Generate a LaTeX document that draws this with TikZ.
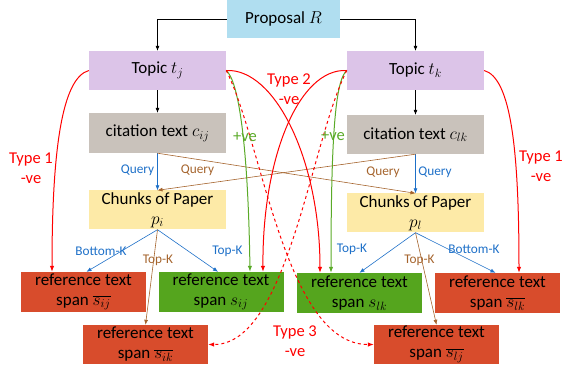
\documentclass[tikz,border=0pt]{standalone}
\usepackage{fontspec}
\setmainfont{Carlito}
\usetikzlibrary{arrows.meta}

\definecolor{propblue}{RGB}{176,222,240}
\definecolor{topicpurple}{RGB}{220,196,232}
\definecolor{citegrey}{RGB}{201,194,187}
\definecolor{chunkyellow}{RGB}{253,234,167}
\definecolor{negred}{RGB}{216,76,44}
\definecolor{posgreen}{RGB}{85,165,30}
\definecolor{curvegreen}{RGB}{90,170,40}
\definecolor{queryblue}{RGB}{30,112,200}
\definecolor{querybrown}{RGB}{165,100,45}

\tikzset{
	box/.style={minimum width=137pt, minimum height=39pt, inner sep=0pt, align=center,
		font=\fontsize{17}{20}\selectfont},
	spanbox/.style={box, minimum width=125pt, minimum height=40pt},
	conn/.style={-{Latex[length=5pt,width=4pt]}, line width=0.6pt},
	small/.style={font=\fontsize{13.3}{15}\selectfont, inner sep=1pt},
	typelab/.style={font=\fontsize{16.5}{20}\selectfont, align=center, text=red, inner sep=1pt},
	negcurve/.style={red, line width=1pt, -{Latex[length=6pt,width=4.5pt]}},
	poscurve/.style={curvegreen, line width=1pt, -{Latex[length=6pt,width=4.5pt]}},
}

\newcommand{\typecurve}[5]{
	\draw[#1] (#2) .. controls (#3) and (#4) .. (#5);
}

\begin{document}
\begin{tikzpicture}[x=1pt,y=-1pt]
\useasboundingbox (0,0) rectangle (563,374);

\pgfmathsetmacro{\colL}{157.5}
\pgfmathsetmacro{\colR}{415.5}

\node[box, fill=propblue, minimum width=113pt, minimum height=38pt] (prop) at (283.5,19) {Proposal $R$};
\node[box, fill=topicpurple] (tj) at (\colL,70.5) {Topic $t_j$};
\node[box, fill=topicpurple] (tk) at (\colR,70.5) {Topic $t_k$};
\node[box, fill=citegrey, minimum height=40pt] (cij) at (\colL,133) {citation text $c_{ij}$};
\node[box, fill=citegrey] (clk) at (\colR,134.5) {citation text $c_{lk}$};
\node[box, fill=chunkyellow] (pi) at (\colL,210) {Chunks of Paper\\$p_i$};
\node[box, fill=chunkyellow] (pl) at (\colR,213) {Chunks of Paper\\$p_l$};

% reference spans
\node[spanbox, fill=negred] (sbij) at (83.5,292) {reference text\\span $\overline{s_{ij}}$};
\node[spanbox, fill=posgreen] (sij) at (221,292) {reference text\\span $s_{ij}$};
\node[spanbox, fill=posgreen] (slk) at (359.5,293) {reference text\\span $s_{lk}$};
\node[spanbox, fill=negred] (sblk) at (497.5,293) {reference text\\span $\overline{s_{lk}}$};
\node[spanbox, fill=negred, minimum height=39pt] (sbik) at (145.5,344.5) {reference text\\span $\overline{s_{ik}}$};
\node[spanbox, fill=negred, minimum height=39pt] (sblj) at (436.5,344.5) {reference text\\span $\overline{s_{lj}}$};

\draw[conn] (prop.west) -| (tj.north);
\draw[conn] (prop.east) -| (tk.north);
\draw[conn] (tj) -- (cij);
\draw[conn] (tk) -- (clk);

% queries
\draw[conn, queryblue] (cij.south) -- (pi.north);
\draw[conn, queryblue] (clk.south) -- (pl.north);
\draw[conn, querybrown] (cij.south) -- (pl.north);
\draw[conn, querybrown] (clk.south) -- (pi.north);
\node[small, text=queryblue] (qbl) at (137.5,170) {Query};
\node[small, text=querybrown] (qrl) at (197.5,170) {Query};
\node[small, text=querybrown] (qrr) at (383,172) {Query};
\node[small, text=queryblue] (qbr) at (435,172) {Query};

% top-k / bottom-k
\draw[conn, queryblue] (pi.south) -- ([xshift=3pt]sbij.north);
\draw[conn, queryblue] (pi.south) -- ([xshift=-3pt]sij.north);
\draw[conn, querybrown] (pi.south) -- (sbik.north);
\draw[conn, queryblue] (pl.south) -- (slk.north);
\draw[conn, queryblue] (pl.south) -- ([xshift=-2pt]sblk.north);
\draw[conn, querybrown] (pl.south) -- (sblj.north);
\node[small, text=queryblue] (bkl) at (101,251) {Bottom-K};
\node[small, text=queryblue] (tkl) at (227.5,251) {Top-K};
\node[small, text=querybrown] (tkbl) at (158,260) {Top-K};
\node[small, text=queryblue] (tkr) at (352,249) {Top-K};
\node[small, text=queryblue] (bkr) at (474,249) {Bottom-K};
\node[small, text=querybrown] (tkbr) at (419.5,260) {Top-K};

% type 1
\typecurve{negcurve}{tj.west}{62,78}{52,150}{[xshift=-31.5pt]sbij.north}
\typecurve{negcurve}{tk.east}{511,78}{519,150}{[xshift=21.5pt]sblk.north}
% positives
\typecurve{poscurve}{tj.east}{238,80}{248,140}{[xshift=29pt]sij.north}
\typecurve{poscurve}{tk.west}{335,80}{331,140}{[xshift=-28.5pt]slk.north}
% type 2
\typecurve{negcurve}{tj.east}{275,68}{320,160}{[xshift=-39.5pt]slk.north}
\typecurve{negcurve}{tk.west}{298,68}{262,160}{[xshift=42pt]sij.north}
% type 3
\typecurve{negcurve, dashed}{tj.east}{262,140}{285,345}{sblj.west}
\typecurve{negcurve, dashed}{tk.west}{311,140}{288,345}{sbik.east}

\node[typelab] (t1l) at (31,168) {Type 1\\-ve};
\node[typelab] (t1r) at (541,166) {Type 1\\-ve};
\node[typelab] (t2) at (289,89.5) {Type 2\\-ve};
\node[typelab] (t3) at (295,341) {Type 3\\-ve};
\node[typelab, text=curvegreen] (pvl) at (245,137) {+ve};
\node[typelab, text=curvegreen] (pvr) at (333,136) {+ve};
\end{tikzpicture}
\end{document}
